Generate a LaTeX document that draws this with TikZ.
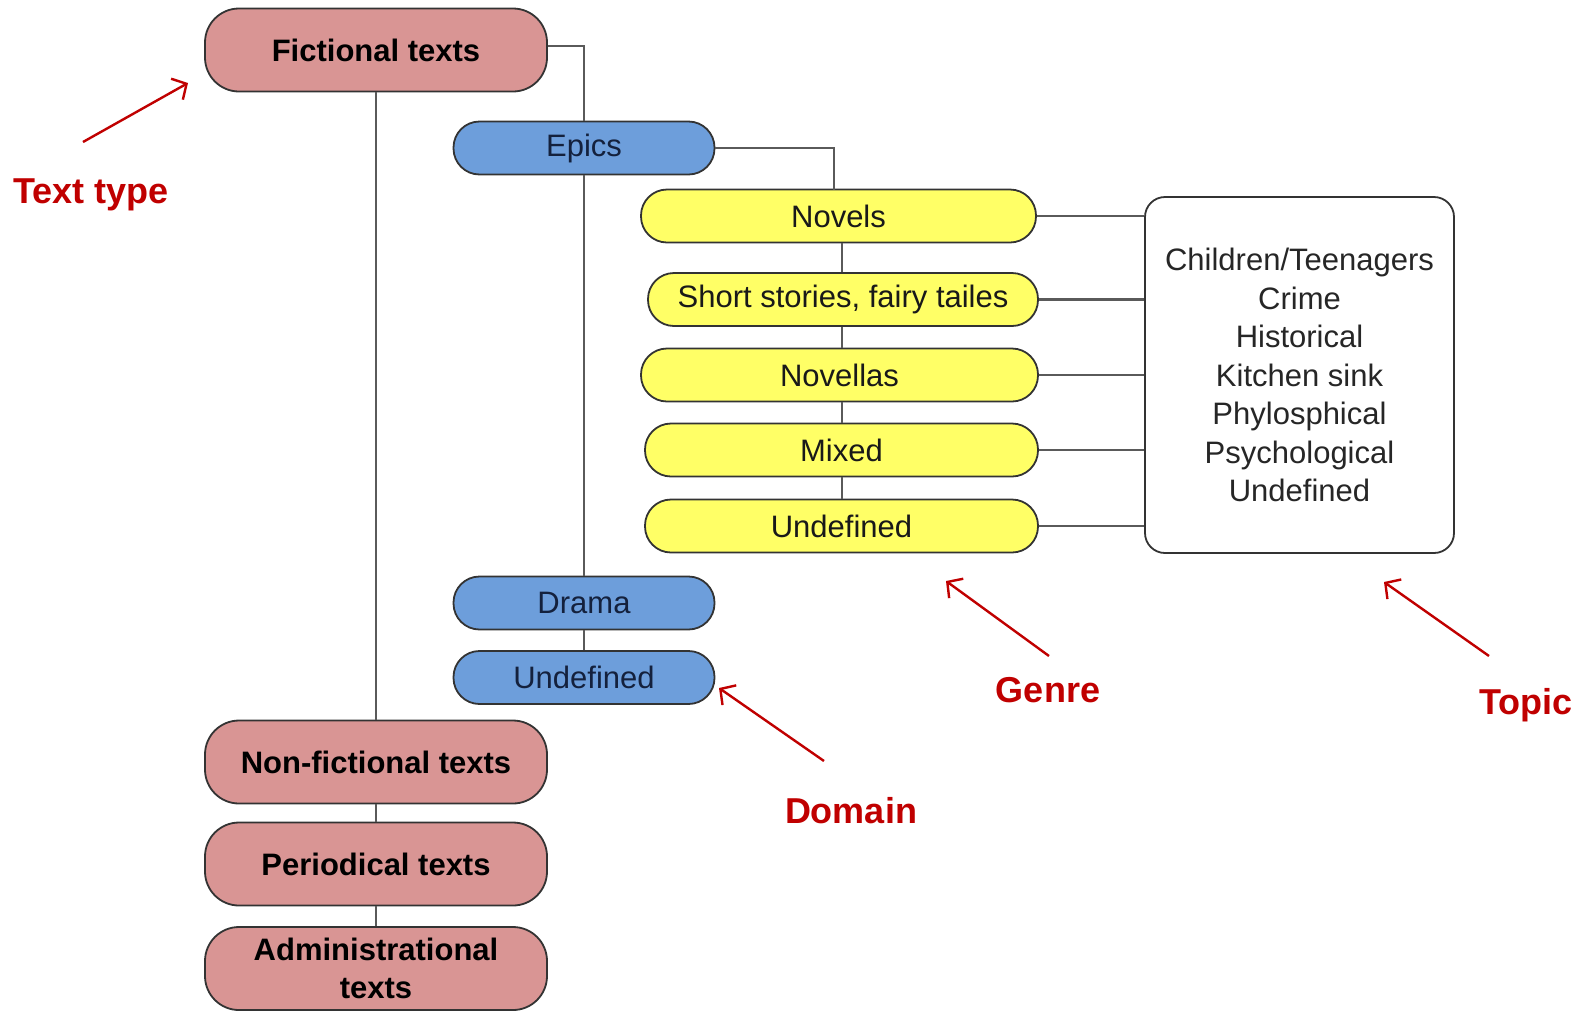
\documentclass[tikz,border=0pt]{standalone}
\usepackage{fontspec}
\setmainfont{Liberation Sans}
\usetikzlibrary{arrows.meta,calc}
\definecolor{pinkfill}{HTML}{D99594}
\definecolor{bluefill}{HTML}{6D9EDB}
\definecolor{yellowfill}{HTML}{FFFF66}
\definecolor{edgegray}{HTML}{333333}
\definecolor{linkgray}{HTML}{5A5A5A}
\definecolor{labelred}{HTML}{C00000}
\definecolor{navytext}{HTML}{14213D}
\begin{document}
\begin{tikzpicture}[x=1pt,y=-1pt,
  base/.style={draw=edgegray,line width=1.8pt,inner sep=0pt,align=center,
    font=\fontsize{31}{38.5}\selectfont},
  typebox/.style={base,fill=pinkfill,minimum width=342pt,minimum height=83pt,
    rounded corners=34pt,font=\fontsize{31}{38.5}\selectfont\bfseries,text=black},
  domainbox/.style={base,fill=bluefill,minimum width=261pt,minimum height=53pt,
    rounded corners=26pt,text=navytext},
  genrebox/.style={base,fill=yellowfill,minimum height=53pt,
    rounded corners=26pt,text=black!90},
  topicbox/.style={base,fill=white,minimum width=309pt,minimum height=356pt,
    rounded corners=20pt,text=black!85},
  link/.style={draw=linkgray,line width=2.2pt},
  tag/.style={text=labelred,font=\fontsize{36}{40}\selectfont\bfseries},
  pointer/.style={draw=labelred,line width=2.4pt,
    -{Straight Barb[length=11pt,width=24pt,line width=2.4pt]}}]
\useasboundingbox (0,0) rectangle (1587,1010);

% text types
\node[typebox] (fict) at (376,50) {Fictional texts};
\node[typebox] (nonfic) at (376,762) {Non-fictional texts};
\node[typebox] (period) at (376,864) {Periodical texts};
\node[typebox] (admin) at (376,968.5) {Administrational\\texts};

% domains
\node[domainbox] (epics) at (584,148) {Epics};
\node[domainbox] (drama) at (584,603) {Drama};
\node[domainbox] (udom) at (584,677.5) {Undefined};

% genres
\node[genrebox,minimum width=395pt] (novels) at (838.5,216) {Novels};
\node[genrebox,minimum width=390pt] (short) at (843,299.5) {Short stories, fairy tailes};
\node[genrebox,minimum width=397pt] (novellas) at (839.5,375) {Novellas};
\node[genrebox,minimum width=393pt] (mixed) at (841.5,450) {Mixed};
\node[genrebox,minimum width=393pt] (ugen) at (841.5,526) {Undefined};

% topics
\node[topicbox] (topic) at (1299.5,375)
  {Children/Teenagers\\Crime\\Historical\\Kitchen sink\\Phylosphical\\Psychological\\Undefined};

% tree connectors
\coordinate (fictout) at ($(fict.east)+(0,-4)$);
\path[link] (fict.south) -- (nonfic.north);
\path[link] (nonfic.south) -- (period.north);
\path[link] (period.south) -- (admin.north);
\path[link] (fictout) -| (epics.north);
\path[link] (epics.south) -- (drama.north);
\path[link] (drama.south) -- (udom.north);
\coordinate (novtop) at (834,189.5);
\path[link] (epics.east) -| (novtop);
\coordinate (gx) at (842,0);
\path[link] (novels.south -| gx) -- (short.north -| gx);
\path[link] (short.south -| gx) -- (novellas.north -| gx);
\path[link] (novellas.south -| gx) -- (mixed.north -| gx);
\path[link] (mixed.south -| gx) -- (ugen.north -| gx);
\foreach \g in {novels,short,novellas,mixed,ugen}
  \path[link] (\g.east) -- (\g.east -| topic.west);

% level labels with their pointers
\node[tag] (ltype) at (91,195) {Text type};
\node[tag] (ldomain) at (851,811) {Domain};
\node[tag] (lgenre) at (1048,690) {Genre};
\node[tag] (ltopic) at (1526,705) {Topic};
\coordinate (stype) at (83,142);
\coordinate (sdomain) at (824,761);
\coordinate (sgenre) at (1049,656);
\coordinate (stopic) at (1489,656);
\coordinate (ptype) at (188,83);
\coordinate (pdomain) at (719,688);
\coordinate (pgenre) at (946,581);
\coordinate (ptopic) at (1384,582);
\draw[pointer] (stype) -- (ptype);
\draw[pointer] (sdomain) -- (pdomain);
\draw[pointer] (sgenre) -- (pgenre);
\draw[pointer] (stopic) -- (ptopic);
\end{tikzpicture}
\end{document}
